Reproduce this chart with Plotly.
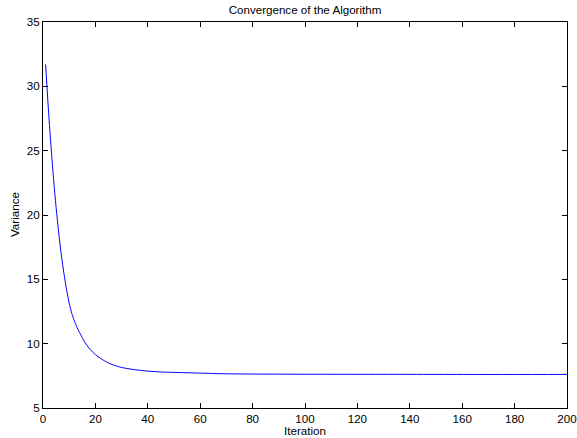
import plotly.graph_objects as go

iterations = [1, 2, 3, 4, 5, 6, 7, 8, 9, 10, 11, 12, 13, 14, 16, 18, 20, 22, 25, 27, 30, 35, 40, 45, 55, 70, 90, 120, 160, 200]
variance = [31.7, 28.4, 25.5, 22.9, 20.6, 18.6, 16.9, 15.45, 14.2, 13.15, 12.35, 11.75, 11.25, 10.85, 10.1, 9.55, 9.15, 8.85, 8.5, 8.33, 8.15, 7.98, 7.87, 7.8, 7.74, 7.66, 7.63, 7.62, 7.61, 7.61]

x_ticks = [0, 20, 40, 60, 80, 100, 120, 140, 160, 180, 200]
y_ticks = [5, 10, 15, 20, 25, 30, 35]

font = "Liberation Sans, Arial, Helvetica, sans-serif"
fs = 11.6

W, H = 577, 438
L, R, T, B = 43, 10, 22, 30
plot_w = W - L - R
plot_h = H - T - B

fig = go.Figure()
fig.add_trace(go.Scatter(x=iterations, y=variance, mode="lines",
                         line=dict(color="#0000ff", width=1, shape="spline", smoothing=0.8),
                         showlegend=False, hoverinfo="skip"))

fig.update_layout(
    width=W, height=H,
    margin=dict(l=L, r=R, t=T, b=B, autoexpand=False),
    paper_bgcolor="white", plot_bgcolor="white",
    font=dict(family=font, size=fs, color="black"),
    title=dict(text="Convergence of the Algorithm", x=0.5, xref="paper",
               xanchor="center",
               y=1 - 10 / H, yref="container", yanchor="middle",
               font=dict(size=fs)),
    annotations=[
        dict(text="Iteration", xref="paper", yref="paper", x=0.5,
             y=-(430 - (H - B)) / plot_h, xanchor="center", yanchor="middle",
             showarrow=False, font=dict(size=fs)),
        dict(text="Variance", xref="paper", yref="paper", x=(14 - L) / plot_w,
             y=0.5, xanchor="center", yanchor="middle", textangle=-90,
             showarrow=False, font=dict(size=fs)),
    ],
)
axis_common = dict(showline=True, linecolor="black", linewidth=1, mirror="ticks",
                   ticks="inside", ticklen=5, tickcolor="black", showgrid=False,
                   zeroline=False, automargin=False, tickfont=dict(size=fs))
fig.update_xaxes(range=[0, 200], tickvals=x_ticks, ticktext=[str(v) for v in x_ticks],
                 **axis_common)
fig.update_yaxes(range=[5, 35], tickvals=y_ticks, ticktext=[str(v) for v in y_ticks],
                 **axis_common)

fig.write_html("out.html", config={"displayModeBar": False},
               post_script="document.body.style.margin='0';document.body.style.overflow='hidden';")
